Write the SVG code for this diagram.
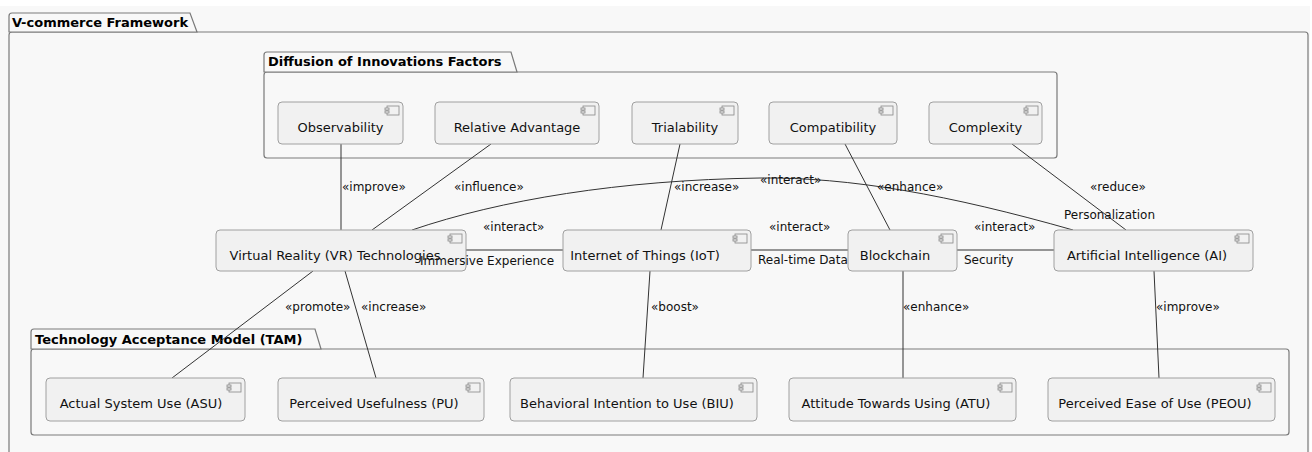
<svg xmlns="http://www.w3.org/2000/svg" xmlns:xlink="http://www.w3.org/1999/xlink" width="1312" height="452" viewBox="0 0 1312 452">
<style>
.pkg{fill:#F8F8F8;stroke:#7a7a7a;stroke-width:1.2}
.ptitle{font-family:"DejaVu Sans",sans-serif;font-size:13px;font-weight:bold;fill:#000}
.node{fill:#F1F1F1;stroke:#a0a0a0;stroke-width:1}
.nt{font-family:"DejaVu Sans",sans-serif;font-size:13px;fill:#111;text-anchor:middle}
.lbl{font-family:"DejaVu Sans",sans-serif;font-size:12px;fill:#111}
.ln{fill:none;stroke:#333;stroke-width:1}
.ic{fill:#F1F1F1;stroke:#888;stroke-width:0.8}
</style>
<defs>
<g id="icon">
<rect class="ic" x="0" y="0" width="12" height="9"/>
<rect class="ic" x="-2" y="2" width="4" height="2"/>
<rect class="ic" x="-2" y="5" width="4" height="2"/>
</g>
</defs>
<rect x="0" y="0" width="1312" height="452" fill="#FFFFFF"/>
<rect x="0" y="6" width="1310" height="446" fill="#F8F8F8"/>

<g id="pkg-vcommerce">
<rect class="pkg" x="9" y="32" width="1299" height="430" rx="3"/>
<path class="pkg" d="M9,32 L9,16 Q9,13 12,13 L190,13 L197,32 Z"/>
<text class="ptitle" x="12" y="27">V-commerce Framework</text>
</g>

<g id="pkg-diffusion">
<rect class="pkg" x="264" y="72" width="793" height="86" rx="3"/>
<path class="pkg" d="M264,72 L264,55 Q264,52 267,52 L511,52 L517,72 Z"/>
<text class="ptitle" x="268" y="66">Diffusion of Innovations Factors</text>
</g>

<g id="pkg-tam">
<rect class="pkg" x="31" y="349" width="1258" height="86" rx="3"/>
<path class="pkg" d="M31,349 L31,332 Q31,329 34,329 L315,329 L321,349 Z"/>
<text class="ptitle" x="35" y="344">Technology Acceptance Model (TAM)</text>
</g>

<g id="connectors">
<line class="ln" x1="341" y1="144" x2="341" y2="230"/>
<line class="ln" x1="491" y1="144" x2="372" y2="230"/>
<line class="ln" x1="680" y1="144" x2="661" y2="230"/>
<line class="ln" x1="845" y1="144" x2="890" y2="230"/>
<line class="ln" x1="1012" y1="144" x2="1126" y2="230"/>
<line class="ln" x1="466" y1="250" x2="563" y2="250"/>
<line class="ln" x1="751" y1="250" x2="848" y2="250"/>
<line class="ln" x1="957" y1="250" x2="1054" y2="250"/>
<path class="ln" d="M412,230 C500,200 620,180 760,178 C850,177 950,195 1073,230"/>
<line class="ln" x1="313" y1="271" x2="172" y2="378"/>
<line class="ln" x1="345" y1="271" x2="376" y2="378"/>
<line class="ln" x1="650" y1="271" x2="643" y2="378"/>
<line class="ln" x1="903" y1="271" x2="903" y2="378"/>
<line class="ln" x1="1154" y1="271" x2="1159" y2="378"/>
</g>

<g id="observability"><rect class="node" x="278" y="102" width="125" height="42" rx="4"/><use xlink:href="#icon" x="387" y="106"/><text class="nt" x="340.5" y="131.5">Observability</text></g>
<g id="relative-advantage"><rect class="node" x="435" y="102" width="164" height="42" rx="4"/><use xlink:href="#icon" x="583" y="106"/><text class="nt" x="517" y="131.5">Relative Advantage</text></g>
<g id="trialability"><rect class="node" x="632" y="102" width="106" height="42" rx="4"/><use xlink:href="#icon" x="722" y="106"/><text class="nt" x="685" y="131.5">Trialability</text></g>
<g id="compatibility"><rect class="node" x="769" y="102" width="128" height="42" rx="4"/><use xlink:href="#icon" x="881" y="106"/><text class="nt" x="833" y="131.5">Compatibility</text></g>
<g id="complexity"><rect class="node" x="929" y="102" width="113" height="42" rx="4"/><use xlink:href="#icon" x="1026" y="106"/><text class="nt" x="985.5" y="131.5">Complexity</text></g>

<g id="vr"><rect class="node" x="216" y="230" width="250" height="41" rx="4"/><use xlink:href="#icon" x="450" y="234"/><text class="nt" x="335" y="259.5">Virtual Reality (VR) Technologies</text></g>
<g id="iot"><rect class="node" x="563" y="230" width="188" height="41" rx="4"/><use xlink:href="#icon" x="735" y="234"/><text class="nt" x="645" y="259.5">Internet of Things (IoT)</text></g>
<g id="blockchain"><rect class="node" x="848" y="230" width="109" height="41" rx="4"/><use xlink:href="#icon" x="941" y="234"/><text class="nt" x="895" y="259.5">Blockchain</text></g>
<g id="ai"><rect class="node" x="1054" y="230" width="199" height="41" rx="4"/><use xlink:href="#icon" x="1237" y="234"/><text class="nt" x="1147" y="259.5">Artificial Intelligence (AI)</text></g>

<g id="asu"><rect class="node" x="46" y="378" width="199" height="43" rx="4"/><use xlink:href="#icon" x="229" y="383"/><text class="nt" x="141" y="408">Actual System Use (ASU)</text></g>
<g id="pu"><rect class="node" x="278" y="378" width="206" height="43" rx="4"/><use xlink:href="#icon" x="468" y="383"/><text class="nt" x="374" y="408">Perceived Usefulness (PU)</text></g>
<g id="biu"><rect class="node" x="510" y="378" width="247" height="43" rx="4"/><use xlink:href="#icon" x="741" y="383"/><text class="nt" x="627" y="408">Behavioral Intention to Use (BIU)</text></g>
<g id="atu"><rect class="node" x="789" y="378" width="227" height="43" rx="4"/><use xlink:href="#icon" x="1000" y="383"/><text class="nt" x="896" y="408">Attitude Towards Using (ATU)</text></g>
<g id="peou"><rect class="node" x="1048" y="378" width="227" height="43" rx="4"/><use xlink:href="#icon" x="1259" y="383"/><text class="nt" x="1155" y="408">Perceived Ease of Use (PEOU)</text></g>

<g id="connector-labels">
<text class="lbl" x="342" y="191">«improve»</text>
<text class="lbl" x="454" y="191">«influence»</text>
<text class="lbl" x="674" y="191">«increase»</text>
<text class="lbl" x="877" y="191">«enhance»</text>
<text class="lbl" x="1090" y="191">«reduce»</text>
<text class="lbl" x="760" y="184">«interact»</text>
<text class="lbl" x="1064" y="219">Personalization</text>
<text class="lbl" x="483" y="231">«interact»</text>
<text class="lbl" x="769" y="231">«interact»</text>
<text class="lbl" x="974" y="231">«interact»</text>
<text class="lbl" x="420" y="265">Immersive Experience</text>
<text class="lbl" x="758" y="264">Real-time Data</text>
<text class="lbl" x="964" y="264">Security</text>
<text class="lbl" x="285" y="311">«promote»</text>
<text class="lbl" x="361" y="311">«increase»</text>
<text class="lbl" x="651" y="311">«boost»</text>
<text class="lbl" x="903" y="311">«enhance»</text>
<text class="lbl" x="1156" y="311">«improve»</text>
</g>
</svg>
